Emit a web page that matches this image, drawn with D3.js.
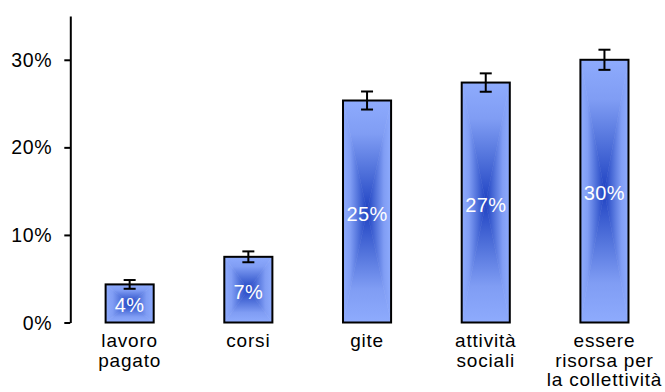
<!DOCTYPE html>
<html>
<head>
<meta charset="utf-8">
<script src="https://cdn.jsdelivr.net/npm/d3@7"></script>
<style>
html,body{margin:0;padding:0;background:#fff;}
svg{display:block;}
text{font-family:"Liberation Sans",Arial,sans-serif;}
</style>
</head>
<body>
<svg id="chart" width="665" height="392"></svg>
<script>
const categories = [["lavoro","pagato"],["corsi"],["gite"],["attività","sociali"],["essere","risorsa per","la collettività"]];
const values = [4.35, 7.5, 25.35, 27.4, 30.0];
const errors = [0.5, 0.62, 1.03, 1.05, 1.15];
const valueLabels = ["4%","7%","25%","27%","30%"];
const yTicks = [0, 10, 20, 30];

const svg = d3.select("#chart");
const x0 = 70.3, x1 = 663.8, yBottom = 322.5, yTop = 16;
const x = d3.scaleBand().domain(d3.range(values.length)).range([x0, x1]).paddingInner(0.595).paddingOuter(0.2975);
const y = d3.scaleLinear().domain([0, 35]).range([yBottom, yTop]);

// gradients
const defs = svg.append("defs");
const stops = [[0,"#8eabfd"],[0.3,"#809df4"],[0.62,"#5374dc"],[1,"#1f42c2"]];
const dirs = {top:[0,0,0,1], bottom:[0,1,0,0], left:[0,0,1,0], right:[1,0,0,0]};
Object.entries(dirs).forEach(([k,v])=>{
  const g = defs.append("linearGradient").attr("id","g-"+k)
    .attr("x1",v[0]).attr("y1",v[1]).attr("x2",v[2]).attr("y2",v[3]);
  stops.forEach(s=>g.append("stop").attr("offset",s[0]).attr("stop-color",s[1]));
});

// y axis
const yAxis = d3.axisLeft(y).tickValues(yTicks).tickFormat(d=>d+"%").tickSize(6).tickSizeOuter(0);
const ya = svg.append("g").attr("transform",`translate(${x0},0)`).call(yAxis);
ya.select(".domain").attr("stroke","#000").attr("stroke-width",2);
ya.selectAll(".tick line").attr("stroke","#000").attr("stroke-width",2);
ya.selectAll(".tick text").attr("font-size",19.5).attr("fill","#000").attr("x",-18).attr("dy","0.34em")
  .style("letter-spacing","0.7px").attr("font-family","Liberation Sans, Arial, sans-serif");

// bars
const bars = svg.append("g");
values.forEach((v,i)=>{
  const bx = x(i), bw = x.bandwidth(), by = y(v), bh = y(0)-y(v);
  const cx = bx + bw/2, cy = by + bh/2;
  const g = bars.append("g");
  const tris = {
    top: [[bx,by],[bx+bw,by],[cx,cy]],
    bottom: [[bx,by+bh],[bx+bw,by+bh],[cx,cy]],
    left: [[bx,by],[bx,by+bh],[cx,cy]],
    right: [[bx+bw,by],[bx+bw,by+bh],[cx,cy]]
  };
  Object.entries(tris).forEach(([k,pts])=>{
    g.append("polygon").attr("points",pts.map(p=>p.join(",")).join(" "))
      .attr("fill",`url(#g-${k})`).attr("stroke",`url(#g-${k})`).attr("stroke-width",0.6);
  });
  g.append("rect").attr("x",bx).attr("y",by).attr("width",bw).attr("height",bh)
    .attr("fill","none").attr("stroke","#000").attr("stroke-width",2);
  // value label
  g.append("text").attr("x",cx).attr("y",cy).attr("dy","0.45em").attr("text-anchor","middle")
    .attr("font-size",20).attr("fill","#fff").style("letter-spacing","0.4px").text(valueLabels[i]);
  // error bar
  const e = errors[i], cap = 6;
  const eg = svg.append("g").attr("stroke","#000").attr("stroke-width",2);
  eg.append("line").attr("x1",cx).attr("x2",cx).attr("y1",y(v+e)).attr("y2",y(v-e));
  eg.append("line").attr("x1",cx-cap).attr("x2",cx+cap).attr("y1",y(v+e)).attr("y2",y(v+e));
  eg.append("line").attr("x1",cx-cap).attr("x2",cx+cap).attr("y1",y(v-e)).attr("y2",y(v-e));
});

// category labels
const cl = svg.append("g");
categories.forEach((lines,i)=>{
  const t = cl.append("text").attr("x",x(i)+x.bandwidth()/2).attr("y",347)
    .attr("text-anchor","middle").attr("font-size",19).attr("fill","#000").style("letter-spacing","0.8px");
  lines.forEach((l,j)=>t.append("tspan").attr("x",x(i)+x.bandwidth()/2).attr("y",347+j*19.5).text(l));
});
</script>
</body>
</html>
